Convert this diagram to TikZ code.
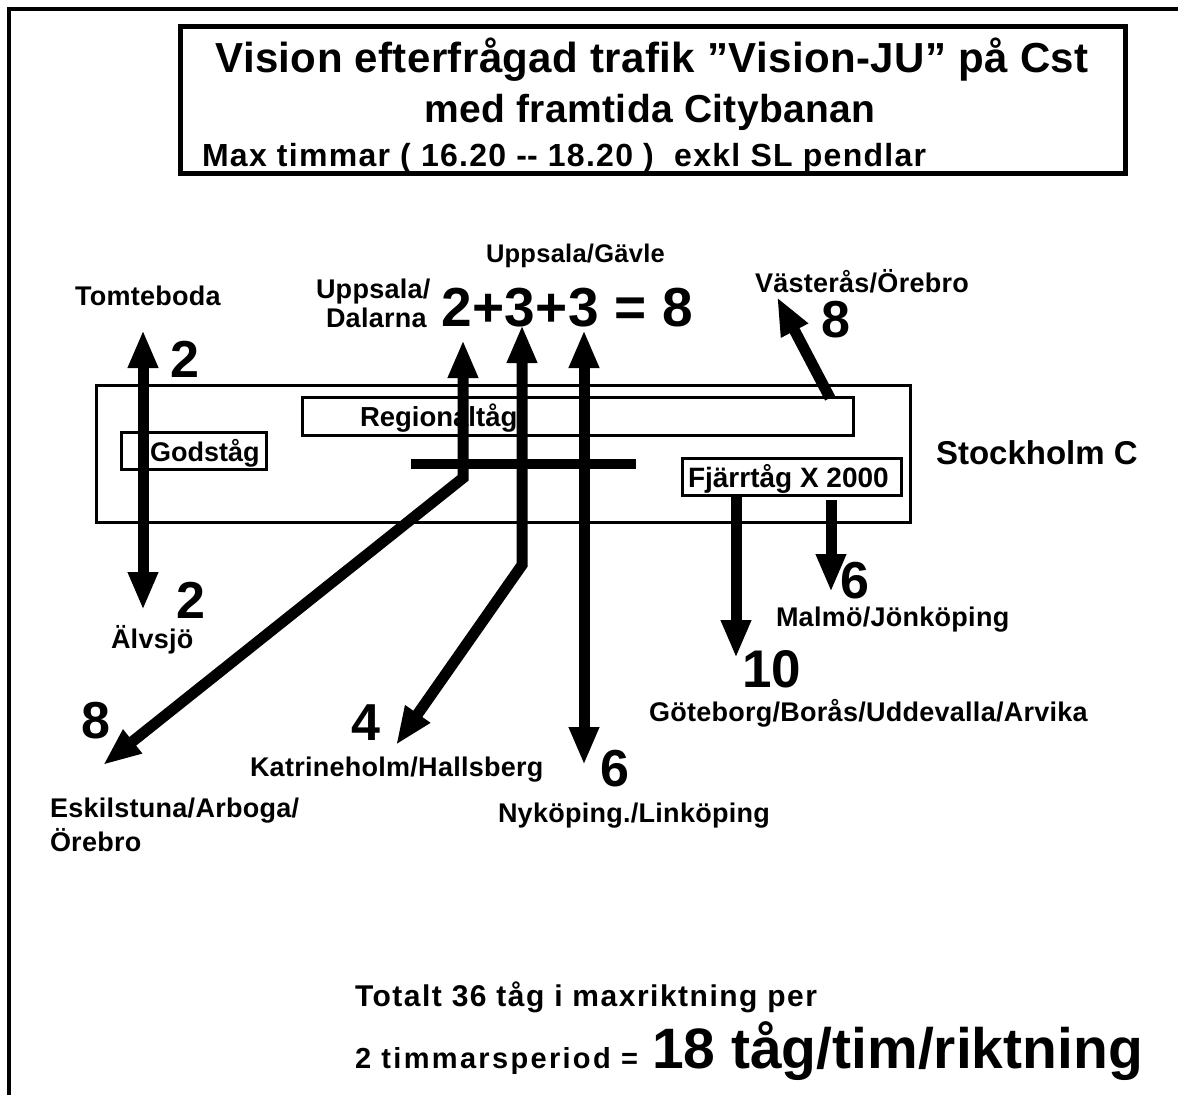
\documentclass[tikz,border=0pt]{standalone}
\usepackage{fontspec}
\setmainfont{Liberation Sans}
\usetikzlibrary{arrows.meta}
\newcommand\ft[2]{\bfseries\fontsize{#1}{#1}\selectfont\addfontfeatures{LetterSpace=#2}}
\tikzset{
  lab/.style={inner sep=0pt, outer sep=0pt, anchor=base west},
  place/.style={lab, font=\ft{27}{1}},
  bignum/.style={lab, font=\ft{52}{0}},
  boxed/.style={draw, line width=3pt, inner sep=0pt},
  tipshape/.tip={Triangle[width=28pt,length=38pt]},
  flow/.style={line width=11pt, line join=miter, -tipshape},
  flowtwo/.style={line width=11pt, line join=miter, tipshape-tipshape},
}
\begin{document}
\begin{tikzpicture}[x=1pt,y=-1pt]
\useasboundingbox[fill=white] (0,0) rectangle (1178,1095);
% page frame (top and left edge)
\draw[line width=4pt] (1178,9) -- (9,9) -- (9,1095);
% title
\node[draw, line width=5pt, minimum width=945.5pt, minimum height=147pt, inner sep=0pt] (tbox) at (652.75,100.2) {};
\node[inner sep=0pt, anchor=base, font=\ft{42}{1}] (t1) at (652,72) {Vision efterfrågad trafik ”Vision-JU” på Cst};
\node[inner sep=0pt, anchor=base, font=\ft{39}{1}] (t2) at (650,122) {med framtida Citybanan};
\node[lab, font=\ft{32}{4}] (t3) at (202,166) {Max timmar ( 16.20 -\kern0pt- 18.20 )\ \ exkl SL pendlar};
% station and track boxes
\node[boxed, minimum width=814pt, minimum height=137pt] (stn) at (503,453.5) {};
\node[boxed, minimum width=551pt, minimum height=38pt] (regbox) at (577.5,416.7) {};
\node[boxed, minimum width=145.5pt, minimum height=37pt] (godbox) at (194.2,450.5) {};
\node[boxed, minimum width=218.4pt, minimum height=37pt] (fjbox) at (791.8,476.5) {};
\node[lab, font=\ft{27.5}{0}] (regt) at (360,426) {Regionaltåg};
\node[lab, font=\ft{27}{0}] (godt) at (150,461) {Godståg};
\node[lab, font=\ft{28}{0}] (fjt) at (688,487) {Fjärrtåg X 2000};
\node[lab, font=\ft{33}{0}] (sthlm) at (936,464) {Stockholm C};
% labels
\node[place] (tomt) at (75,305) {Tomteboda};
\node[bignum] (n2a) at (170,377) {2};
\node[place] (ud1) at (316,298) {Uppsala/};
\node[place] (ud2) at (326,327) {Dalarna};
\node[lab, font=\ft{55}{1}] (sum) at (441,326) {2+3+3 = 8};
\node[lab, font=\ft{25.5}{1}] (ug) at (486,262) {Uppsala/Gävle};
\node[place] (vo) at (755,292) {Västerås/Örebro};
\node[bignum] (n8v) at (821,337) {8};
\node[bignum] (n2b) at (176,618) {2};
\node[place] (alv) at (111,648) {Älvsjö};
\node[bignum] (n8e) at (81,738) {8};
\node[bignum] (n4) at (351,740) {4};
\node[place] (kat) at (250,776) {Katrineholm/Hallsberg};
\node[place] (esk1) at (50,817) {Eskilstuna/Arboga/};
\node[place] (esk2) at (50,851) {Örebro};
\node[bignum] (n6n) at (600,786) {6};
\node[place] (nyk) at (498,822) {Nyköping./Linköping};
\node[bignum] (n6m) at (840,598) {6};
\node[place] (mal) at (776,626) {Malmö/Jönköping};
\node[lab, font=\ft{53}{0}] (n10) at (742,687) {10};
\node[place] (got) at (649,721) {Göteborg/Borås/Uddevalla/Arvika};
% bottom summary
\node[lab, font=\ft{30}{5}] (tot1) at (355,1006) {Totalt 36 tåg i maxriktning per};
\node[lab, font=\ft{29}{8}] (tot2) at (355,1068) {2 timmarsperiod =};
\node[lab, anchor=base east, font=\ft{57}{0}] (tot3) at (1143,1068) {18 tåg/tim/riktning};
% arrow end points
\coordinate (tomtTop) at (143,330);
\coordinate (tomtBot) at (143,610);
\coordinate (udTop) at (463,340);
\coordinate (udBend) at (463,478);
\coordinate (eskTip) at (103,765);
\coordinate (katTop) at (522,325);
\coordinate (katBend) at (522,565);
\coordinate (katTip) at (396,745);
\coordinate (nykTop) at (584,330);
\coordinate (nykTip) at (584,765);
\coordinate (barW) at (411,464);
\coordinate (barE) at (636,464);
\coordinate (voTail) at (830,398);
\coordinate (voTip) at (777,297);
\coordinate (gotTail) at (736,495);
\coordinate (gotTip) at (736,658);
\coordinate (malTail) at (831,500);
\coordinate (malTip) at (831,592);
% arrows
\draw[flowtwo] (tomtTop) -- (tomtBot);
\draw[flowtwo] (udTop) -- (udBend) -- (eskTip);
\draw[flowtwo] (katTop) -- (katBend) -- (katTip);
\draw[flowtwo] (nykTop) -- (nykTip);
\draw[line width=10pt] (barW) -- (barE);
\draw[flow] (voTail) -- (voTip);
\draw[flow] (gotTail) -- (gotTip);
\draw[flow] (malTail) -- (malTip);
\end{tikzpicture}
\end{document}
